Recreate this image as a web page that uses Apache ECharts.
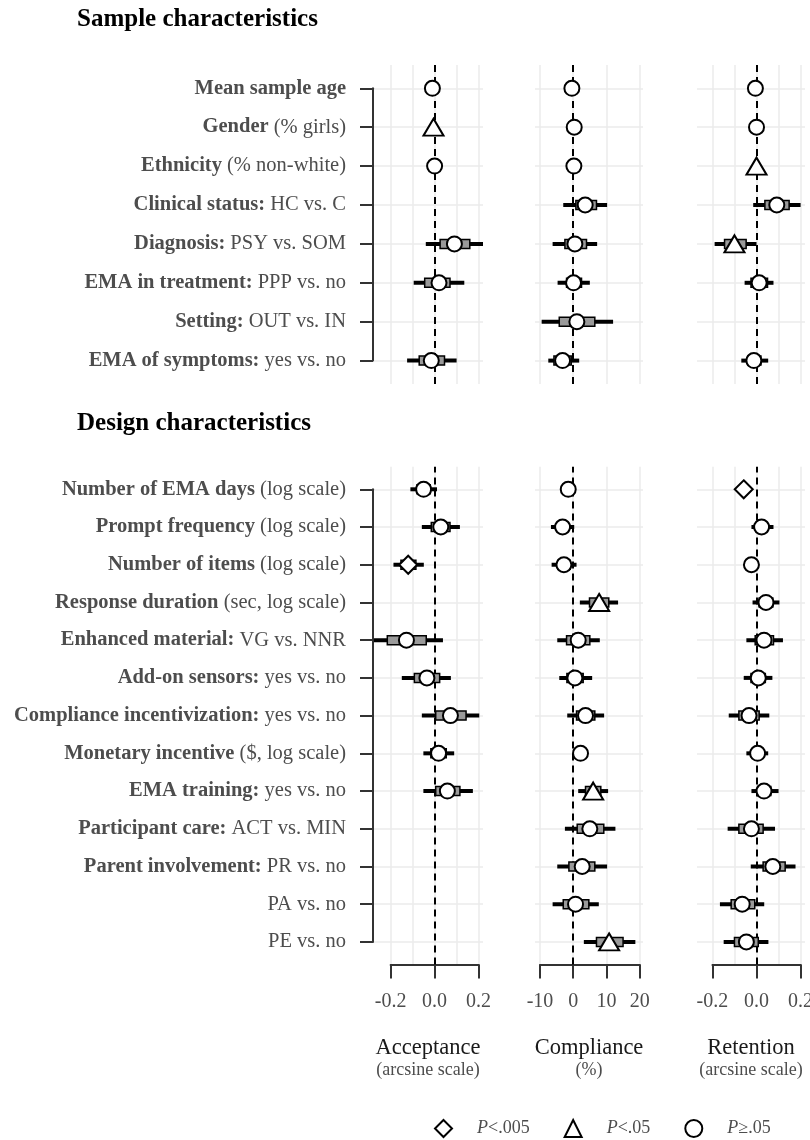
<!DOCTYPE html>
<html>
<head>
<meta charset="utf-8">
<title>EMA moderators forest plot</title>
<script src="https://cdn.jsdelivr.net/npm/echarts@6/dist/echarts.min.js"></script>
<style>
  html, body { margin: 0; padding: 0; background: #ffffff; }
  #chart { width: 810px; height: 1140px; }
</style>
</head>
<body>
<div id="chart"></div>
<script>
// ---- Row labels (bold lead-in + plain remainder) ----
const sampleBold  = ['Mean sample age', 'Gender', 'Ethnicity', 'Clinical status:', 'Diagnosis:',
                     'EMA in treatment:', 'Setting:', 'EMA of symptoms:'];
const samplePlain = ['', ' (% girls)', ' (% non-white)', ' HC vs. C', ' PSY vs. SOM',
                     ' PPP vs. no', ' OUT vs. IN', ' yes vs. no'];

const designBold  = ['Number of EMA days', 'Prompt frequency', 'Number of items', 'Response duration',
                     'Enhanced material:', 'Add-on sensors:', 'Compliance incentivization:',
                     'Monetary incentive', 'EMA training:', 'Participant care:', 'Parent involvement:', '', ''];
const designPlain = [' (log scale)', ' (log scale)', ' (log scale)', ' (sec, log scale)', ' VG vs. NNR',
                     ' yes vs. no', ' yes vs. no', ' ($, log scale)', ' yes vs. no', ' ACT vs. MIN',
                     ' PR vs. no', 'PA vs. no', 'PE vs. no'];

// ---- Estimates per row: [estimate, ci low, ci high, inner low, inner high, significance] ----
// significance: 'd' = P<.005, 't' = P<.05, 'c' = P>=.05 ; null = not estimated
const accSample = [
  [-0.010, -0.020,  0.000, -0.015, -0.005, 'c'],
  [-0.005, -0.012,  0.003, -0.008, -0.002, 't'],
  [ 0.000, -0.010,  0.010, -0.005,  0.005, 'c'],
  null,
  [ 0.090, -0.040,  0.220,  0.025,  0.160, 'c'],
  [ 0.020, -0.095,  0.135, -0.045,  0.070, 'c'],
  null,
  [-0.015, -0.125,  0.100, -0.070,  0.045, 'c']
];
const compSample = [
  [-0.4, -0.8,  0.0, -0.6, -0.2, 'c'],
  [ 0.3,  0.0,  0.6,  0.1,  0.5, 'c'],
  [ 0.2, -0.1,  0.5,  0.0,  0.4, 'c'],
  [ 3.6, -3.0, 10.2,  0.8,  7.0, 'c'],
  [ 0.5, -6.2,  7.2, -2.5,  4.0, 'c'],
  [ 0.1, -4.7,  5.0, -2.0,  2.5, 'c'],
  [ 1.1, -9.5, 12.0, -4.2,  6.5, 'c'],
  [-3.2, -7.5,  1.8, -5.8, -0.6, 'c']
];
const retSample = [
  [-0.005, -0.012,  0.002, -0.008, -0.002, 'c'],
  [ 0.000, -0.008,  0.008, -0.004,  0.004, 'c'],
  [ 0.000, -0.008,  0.008, -0.004,  0.004, 't'],
  [ 0.092, -0.015,  0.200,  0.038,  0.148, 'c'],
  [-0.100, -0.190,  0.000, -0.145, -0.047, 't'],
  [ 0.012, -0.054,  0.077, -0.025,  0.050, 'c'],
  null,
  [-0.012, -0.069,  0.053, -0.040,  0.020, 'c']
];

const accDesign = [
  [-0.050, -0.110,  0.011, -0.080, -0.020, 'c'],
  [ 0.028, -0.058,  0.115, -0.015,  0.070, 'c'],
  [-0.120, -0.187, -0.049, -0.153, -0.085, 'd'],
  null,
  [-0.128, -0.276,  0.038, -0.215, -0.038, 'c'],
  [-0.035, -0.149,  0.074, -0.092,  0.023, 'c'],
  [ 0.072, -0.058,  0.203,  0.005,  0.143, 'c'],
  [ 0.018, -0.051,  0.089, -0.017,  0.053, 'c'],
  [ 0.058, -0.051,  0.174,  0.005,  0.115, 'c'],
  null, null, null, null
];
const compDesign = [
  [-1.5, -2.0, -1.0, -1.7, -1.3, 'c'],
  [-3.2, -6.7,  0.3, -5.0, -1.4, 'c'],
  [-2.8, -6.5,  1.0, -4.6, -0.9, 'c'],
  [ 7.8,  2.0, 13.5,  4.9, 10.7, 't'],
  [ 1.5, -4.8,  8.0, -2.0,  5.0, 'c'],
  [ 0.5, -4.2,  5.7, -1.9,  3.0, 'c'],
  [ 3.7, -1.8,  9.3,  1.0,  6.5, 'c'],
  [ 2.2,  1.8,  2.6,  2.0,  2.4, 'c'],
  [ 6.0,  1.5, 10.5,  3.7,  8.3, 't'],
  [ 5.0, -2.5, 12.7,  1.2,  9.2, 'c'],
  [ 2.7, -4.8, 10.2, -1.3,  6.5, 'c'],
  [ 0.7, -6.2,  7.7, -3.0,  4.7, 'c'],
  [10.8,  3.2, 18.7,  7.0, 15.0, 't']
];
const retDesign = [
  [-0.058, -0.064, -0.052, -0.061, -0.055, 'd'],
  [ 0.023, -0.023,  0.077,  0.000,  0.050, 'c'],
  [-0.023, -0.032, -0.014, -0.028, -0.018, 'c'],
  [ 0.043, -0.018,  0.104,  0.012,  0.074, 'c'],
  [ 0.034, -0.046,  0.120, -0.006,  0.077, 'c'],
  [ 0.008, -0.058,  0.072, -0.025,  0.040, 'c'],
  [-0.034, -0.126,  0.058, -0.080,  0.012, 'c'],
  [ 0.005, -0.046,  0.053, -0.020,  0.030, 'c'],
  [ 0.034, -0.023,  0.100,  0.005,  0.065, 'c'],
  [-0.023, -0.131,  0.084, -0.080,  0.030, 'c'],
  [ 0.074, -0.026,  0.177,  0.030,  0.130, 'c'],
  [-0.065, -0.166,  0.035, -0.115, -0.008, 'c'],
  [-0.046, -0.149,  0.054, -0.100,  0.008, 'c']
];

// ---- Axis tick values ----
const accTicks  = [-0.2, 0.0, 0.2];
const compTicks = [-10, 0, 10, 20];
const retTicks  = [-0.2, 0.0, 0.2];

// ---- Significance legend ----
const sigCodes  = ['d', 't', 'c'];
const sigNames  = ['P<.005', 'P<.05', 'P\u2265.05'];

// ---- Styling / layout ----
const FONT = 'Liberation Serif';
const GREY_TEXT = '#4d4d4d';
const GRID_LINE = '#ebebeb';
const AXIS_COL = '#333333';

const sigSymbol = {
  d: { symbol: 'diamond', size: 18 },
  t: { symbol: 'triangle', size: [20, 17] },
  c: { symbol: 'circle', size: 15 }
};

const panels = [
  { name: 'Acceptance', sub: '(arcsine scale)', min: -0.28, max: 0.22, left: 373, right: 483, ticks: accTicks, minor: true, dec: 1 },
  { name: 'Compliance', sub: '(%)',             min: -11.5, max: 21,   left: 535, right: 643, ticks: compTicks, minor: false, dec: 0 },
  { name: 'Retention',  sub: '(arcsine scale)', min: -0.27, max: 0.22, left: 697, right: 805, ticks: retTicks, minor: true, dec: 1 }
];
panels.forEach(p => { p.scale = (p.right - p.left) / (p.max - p.min); });

const sections = [
  { title: 'Sample characteristics', titleTop: 7,   bold: sampleBold, plain: samplePlain,
    data: [accSample, compSample, retSample], firstRow: 88.3, step: 38.9, bottomAxis: false },
  { title: 'Design characteristics', titleTop: 411, bold: designBold, plain: designPlain,
    data: [accDesign, compDesign, retDesign], firstRow: 489.3, step: 37.72, bottomAxis: true }
];

const grids = [], xAxes = [], yAxes = [], series = [];

function intervalRender(params, api) {
  const row = api.value(4);
  const a = api.coord([api.value(0), row]);
  const b = api.coord([api.value(1), row]);
  const c = api.coord([api.value(2), row]);
  const d = api.coord([api.value(3), row]);
  return {
    type: 'group',
    children: [
      { type: 'line', shape: { x1: a[0], y1: a[1], x2: b[0], y2: b[1] },
        style: { stroke: '#000', lineWidth: 4 } },
      { type: 'rect', shape: { x: c[0], y: c[1] - 4.5, width: d[0] - c[0], height: 9 },
        style: { fill: '#9a9a9a', stroke: '#000', lineWidth: 1.5 } }
    ]
  };
}

sections.forEach((sec, si) => {
  const n = sec.bold.length;
  const labels = sec.bold.map((b, i) => b + sec.plain[i]);
  panels.forEach((p, pi) => {
    // Row grid: category rows, horizontal guides, data marks
    const gA = grids.length;
    grids.push({ left: p.left, width: p.right - p.left, top: sec.firstRow,
                 height: (n - 1) * sec.step, outerBoundsMode: 'none', containLabel: false });
    const showName = sec.bottomAxis;
    xAxes.push({
      gridIndex: gA, type: 'value', min: p.min, max: p.max, show: showName,
      axisLine: { show: false }, axisTick: { show: false }, axisLabel: { show: false },
      splitLine: { show: false },
      name: showName ? '{t|' + p.name + '}\n{s|' + p.sub + '}' : '',
      nameLocation: 'middle', nameGap: 93,
      nameTextStyle: {
        rich: {
          t: { fontFamily: FONT, fontSize: 22.5, color: '#1a1a1a', lineHeight: 26, align: 'center' },
          s: { fontFamily: FONT, fontSize: 18, color: GREY_TEXT, lineHeight: 18, align: 'center' }
        }
      }
    });
    const first = pi === 0;
    yAxes.push({
      gridIndex: gA, type: 'category', data: labels, inverse: true, boundaryGap: false,
      axisLine: { show: first, onZero: false, lineStyle: { color: AXIS_COL, width: 2 } },
      axisTick: { show: first, length: 13, alignWithLabel: true, lineStyle: { color: AXIS_COL, width: 2 } },
      axisLabel: {
        show: first, margin: 27, interval: 0,
        formatter: (v, i) => (sec.bold[i] ? '{b|' + sec.bold[i] + '}' : '') +
                             (sec.plain[i] ? '{r|' + sec.plain[i] + '}' : ''),
        rich: {
          b: { fontFamily: FONT, fontSize: 20.5, fontWeight: 'bold', color: GREY_TEXT },
          r: { fontFamily: FONT, fontSize: 20.5, color: GREY_TEXT }
        }
      },
      splitLine: { show: true, lineStyle: { color: GRID_LINE, width: 1.5 } }
    });

    // Tick grid: vertical guides, zero reference, bottom value axis
    const gB = grids.length;
    const t0 = p.ticks[0], t1 = p.ticks[p.ticks.length - 1];
    grids.push({
      left: p.left + (t0 - p.min) * p.scale, width: (t1 - t0) * p.scale,
      top: sec.firstRow - 0.6 * sec.step, height: (n - 1 + 1.2) * sec.step,
      outerBoundsMode: 'none', containLabel: false
    });
    xAxes.push({
      gridIndex: gB, type: 'value', min: t0, max: t1, interval: p.ticks[1] - p.ticks[0],
      axisLine: { show: sec.bottomAxis, onZero: false, lineStyle: { color: AXIS_COL, width: 2 } },
      axisTick: { show: sec.bottomAxis, length: 14, lineStyle: { color: AXIS_COL, width: 2 } },
      axisLabel: { show: sec.bottomAxis, margin: 27, fontFamily: FONT, fontSize: 20, color: GREY_TEXT,
                   formatter: v => v.toFixed(p.dec) },
      splitLine: { show: true, lineStyle: { color: GRID_LINE, width: 1.5 } },
      minorTick: { show: false, splitNumber: 2 },
      minorSplitLine: { show: p.minor, lineStyle: { color: GRID_LINE, width: 1.5 } }
    });
    yAxes.push({ gridIndex: gB, type: 'value', min: 0, max: 1, show: false });

    series.push({
      type: 'line', xAxisIndex: gB, yAxisIndex: gB, data: [], silent: true, z: 1,
      markLine: {
        silent: true, z: 1, symbol: ['none', 'none'], label: { show: false },
        lineStyle: { color: '#000', type: [7, 5], width: 2 },
        emphasis: { disabled: true },
        data: [{ xAxis: 0 }]
      }
    });

    const rows = sec.data[pi];
    const intervals = [];
    rows.forEach((r, i) => { if (r) intervals.push([r[1], r[2], r[3], r[4], i]); });
    series.push({
      type: 'custom', xAxisIndex: gA, yAxisIndex: gA, z: 3, silent: true,
      encode: { x: [0, 1, 2, 3], y: 4 },
      renderItem: intervalRender, data: intervals
    });

    sigCodes.forEach((code, k) => {
      const pts = [];
      rows.forEach((r, i) => { if (r && r[5] === code) pts.push([r[0], i]); });
      series.push({
        type: 'scatter', name: sigNames[k], xAxisIndex: gA, yAxisIndex: gA, z: 4,
        symbol: sigSymbol[code].symbol, symbolSize: sigSymbol[code].size,
        itemStyle: { color: '#ffffff', borderColor: '#000000', borderWidth: 2, opacity: 1 },
        emphasis: { disabled: true },
        data: pts
      });
    });
  });
});

const option = {
  animation: false,
  backgroundColor: '#ffffff',
  textStyle: { fontFamily: FONT },
  title: sections.map(sec => ({
    text: sec.title, left: 77, top: sec.titleTop, padding: 0,
    textStyle: { fontFamily: FONT, fontSize: 25, fontWeight: 'bold', color: '#000' }
  })),
  legend: {
    data: sigNames, left: 429, top: 1114, itemWidth: 17, itemHeight: 17, itemGap: 34,
    selectedMode: false,
    itemStyle: { color: '#ffffff', borderColor: '#000000', borderWidth: 2 },
    formatter: nm => '{g|}{i|P}{r|' + nm.slice(1) + '}',
    textStyle: {
      rich: {
        g: { width: 20 },
        i: { fontFamily: FONT, fontSize: 18, fontStyle: 'italic', color: GREY_TEXT },
        r: { fontFamily: FONT, fontSize: 18, color: GREY_TEXT }
      }
    }
  },
  grid: grids,
  xAxis: xAxes,
  yAxis: yAxes,
  series: series
};

const chart = echarts.init(document.getElementById('chart'), null, { renderer: 'canvas' });
chart.setOption(option);
</script>
</body>
</html>
